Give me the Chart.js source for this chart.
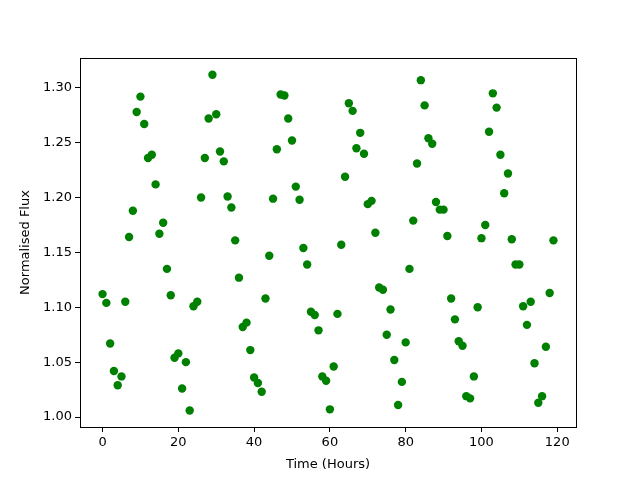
<!DOCTYPE html>
<html>
<head>
<meta charset="UTF-8">
<title>Normalised Flux</title>
<script src="https://cdn.jsdelivr.net/npm/chart.js"></script>
<style>
  html, body { margin: 0; padding: 0; background: #fff; }
  #wrap { width: 640px; height: 480px; }
</style>
</head>
<body>
<div id="wrap"><canvas id="chart" width="640" height="480"></canvas></div>
<script>
// hours 0..119
const hours = [];
for (let h = 0; h < 120; h++) hours.push(h);

const flux = [
  1.112, 1.104, 1.067, 1.042, 1.029, 1.037, 1.105, 1.164, 1.188, 1.278,
  1.292, 1.267, 1.236, 1.239, 1.212, 1.167, 1.177, 1.135, 1.111, 1.054,
  1.058, 1.026, 1.050, 1.006, 1.101, 1.105, 1.200, 1.236, 1.272, 1.312,
  1.276, 1.242, 1.233, 1.201, 1.191, 1.161, 1.127, 1.082, 1.086, 1.061,
  1.036, 1.031, 1.023, 1.108, 1.147, 1.199, 1.244, 1.294, 1.293, 1.272,
  1.252, 1.210, 1.198, 1.154, 1.139, 1.096, 1.093, 1.079, 1.037, 1.033,
  1.007, 1.046, 1.094, 1.157, 1.219, 1.286, 1.279, 1.245, 1.259, 1.240,
  1.194, 1.197, 1.168, 1.118, 1.116, 1.075, 1.098, 1.052, 1.011, 1.032,
  1.068, 1.135, 1.179, 1.231, 1.307, 1.284, 1.254, 1.249, 1.196, 1.189,
  1.189, 1.165, 1.108, 1.089, 1.069, 1.065, 1.019, 1.017, 1.037, 1.100,
  1.163, 1.175, 1.260, 1.295, 1.282, 1.239, 1.204, 1.222, 1.162, 1.139,
  1.139, 1.101, 1.084, 1.105, 1.049, 1.013, 1.019, 1.064, 1.113, 1.161
];

const xTicks = [0, 20, 40, 60, 80, 100, 120];
const yTicks = [1.00, 1.05, 1.10, 1.15, 1.20, 1.25, 1.30];

const FONT = "'DejaVu Sans', sans-serif";

// draws the full box around the plot area like matplotlib
const frame = {
  id: 'frame',
  afterDraw(chart) {
    const a = chart.chartArea, ctx = chart.ctx;
    ctx.save();
    ctx.strokeStyle = '#000';
    ctx.lineWidth = 1;
    ctx.strokeRect(Math.round(a.left) + 0.5, Math.round(a.top) + 0.5,
                   Math.round(a.right - a.left), Math.round(a.bottom - a.top));
    ctx.restore();
  }
};

new Chart(document.getElementById('chart'), {
  type: 'scatter',
  data: {
    datasets: [{
      data: hours.map((h, i) => ({ x: h, y: flux[i] })),
      backgroundColor: '#008000',
      borderColor: '#008000',
      pointRadius: 4.2,
      pointHoverRadius: 4.2,
      borderWidth: 0
    }]
  },
  options: {
    responsive: false,
    animation: false,
    events: [],
    layout: { padding: { top: 58, right: 64, left: 0, bottom: 0 } },
    plugins: { legend: { display: false }, tooltip: { enabled: false } },
    scales: {
      x: {
        type: 'linear',
        min: -5.95,
        max: 124.95,
        afterBuildTicks: s => { s.ticks = xTicks.map(v => ({ value: v })); },
        afterFit: s => { s.height = 53; },
        grid: { drawOnChartArea: false, drawTicks: true, tickLength: 5, color: '#000' },
        border: { display: false },
        ticks: { color: '#000', font: { family: FONT, size: 13 }, padding: 3, maxRotation: 0,
                 callback: v => String(v) },
        title: { display: true, text: 'Time (Hours)', color: '#000',
                 font: { family: FONT, size: 13 }, padding: { top: 2, bottom: 8 } }
      },
      y: {
        type: 'linear',
        min: 0.9909,
        max: 1.3272,
        afterBuildTicks: s => { s.ticks = yTicks.map(v => ({ value: v })); },
        afterFit: s => { s.width = 80; },
        grid: { drawOnChartArea: false, drawTicks: true, tickLength: 5, color: '#000' },
        border: { display: false },
        ticks: { color: '#000', font: { family: FONT, size: 13 }, padding: 3,
                 callback: v => v.toFixed(2) },
        title: { display: true, text: 'Normalised Flux', color: '#000',
                 font: { family: FONT, size: 13 }, padding: { top: 18, bottom: 4 } }
      }
    }
  },
  plugins: [frame]
});
</script>
</body>
</html>
